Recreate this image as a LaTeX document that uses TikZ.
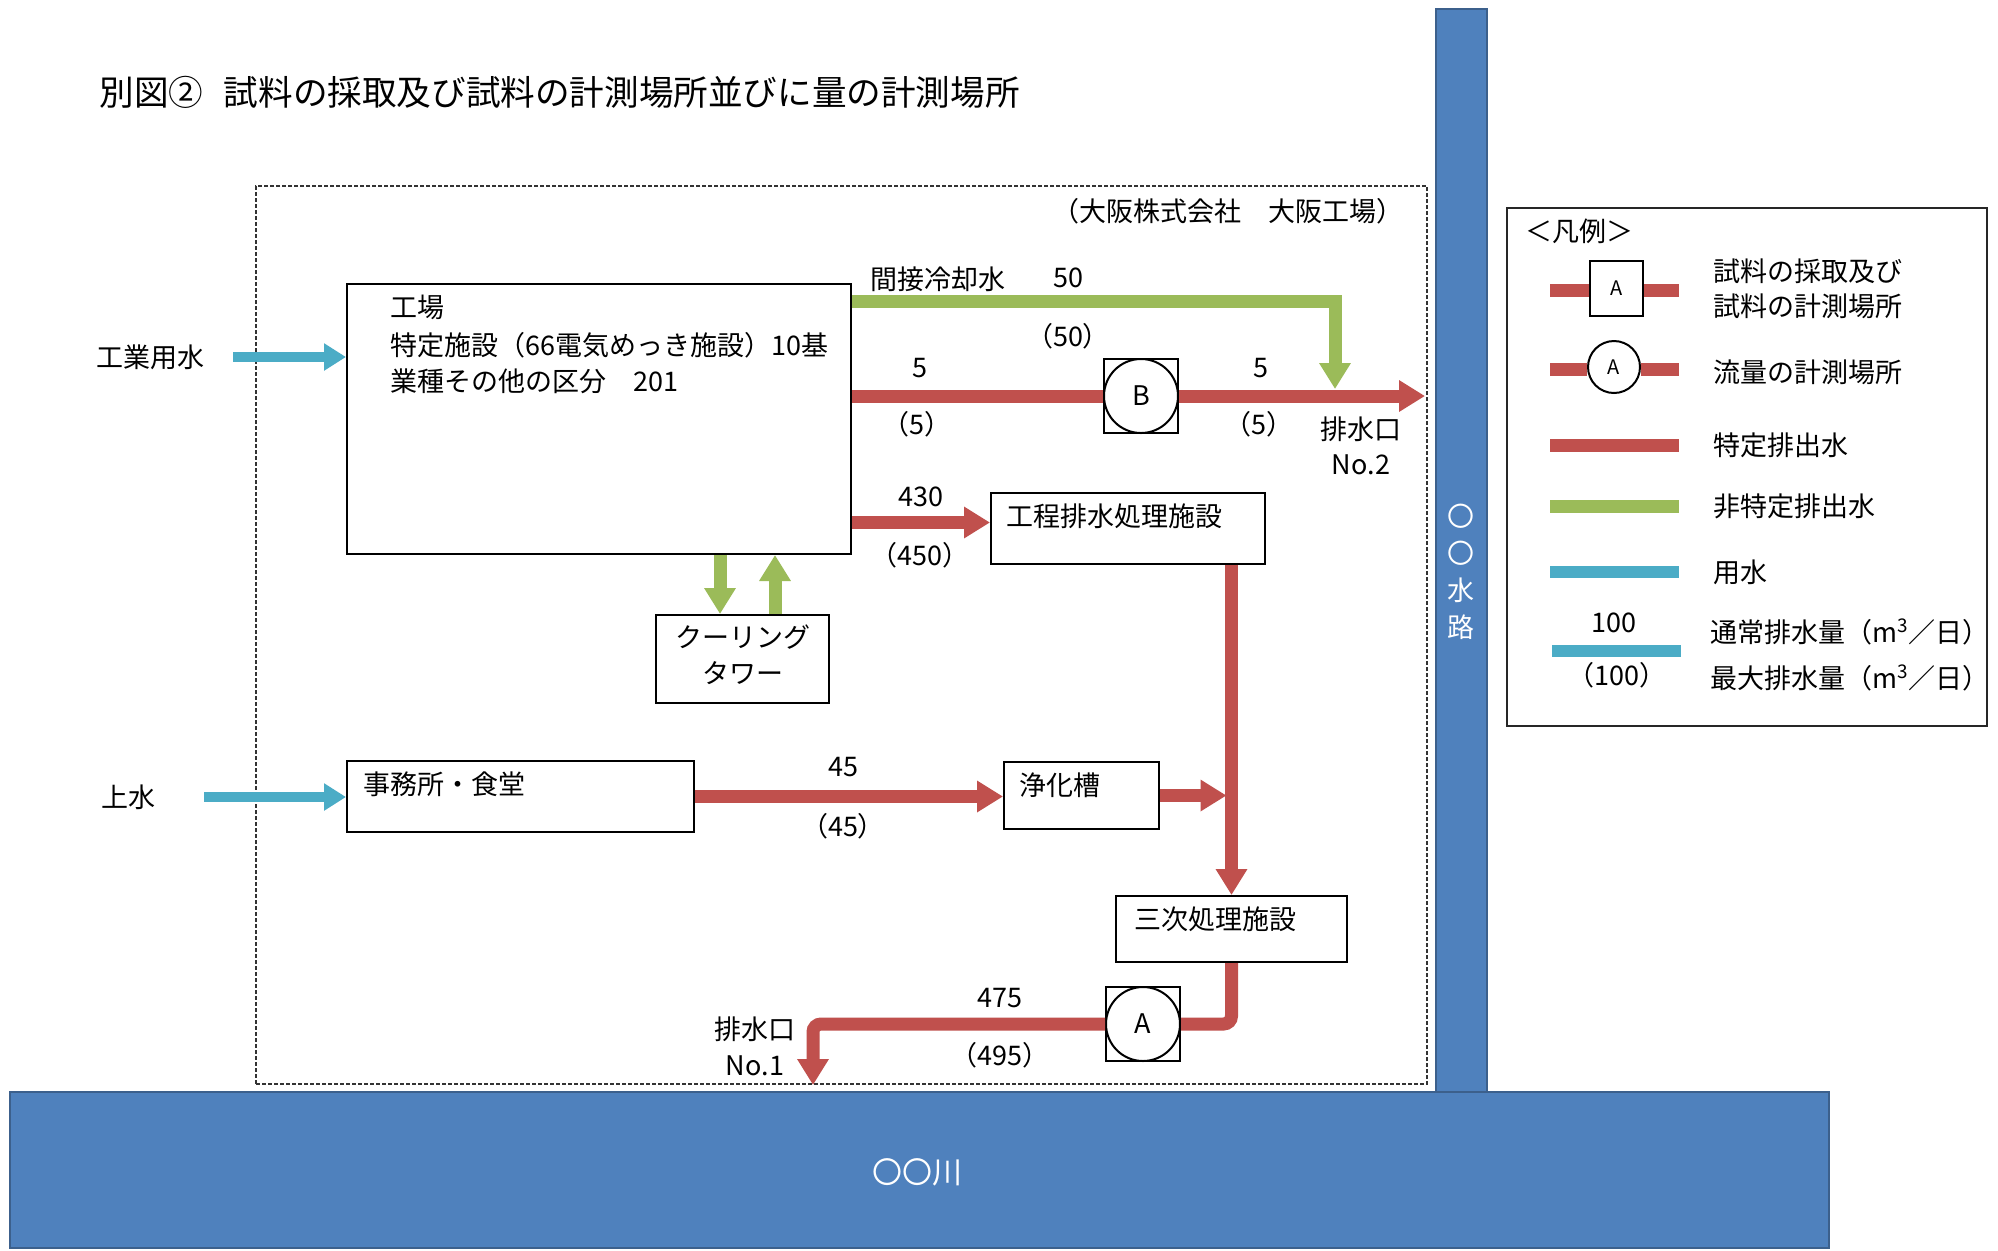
\documentclass[tikz,border=0pt]{standalone}
\usepackage{fontspec}
\setmainfont{Noto Sans CJK JP}
\usetikzlibrary{arrows.meta,calc}
\definecolor{fred}{RGB}{192,80,77}
\definecolor{fgreen}{RGB}{155,187,89}
\definecolor{fblue}{RGB}{75,172,198}
\definecolor{wblue}{RGB}{79,129,189}
\definecolor{wedge}{RGB}{60,96,140}
\begin{document}
\begin{tikzpicture}[x=0.5pt,y=-0.5pt,
  every node/.style={font=\fontsize{13.5}{16}\selectfont, inner sep=0pt},
  box/.style={draw=black, line width=1pt, fill=white, inner sep=0pt},
  redflow/.style={draw=fred, line width=6.5pt, line join=miter},
  redarrow/.style={redflow, -{Triangle[length=13pt,width=15pt]}},
  greenflow/.style={draw=fgreen, line width=6.5pt, line join=miter},
  greenarrow/.style={greenflow, -{Triangle[length=13pt,width=15pt]}},
  bluearrow/.style={draw=fblue, line width=5pt, -{Triangle[length=11pt,width=13pt]}},
  water/.style={fill=wblue, draw=wedge, line width=1pt},
  wtext/.style={text=white},
  small/.style={font=\fontsize{10}{12}\selectfont},
]
\useasboundingbox (0,0) rectangle (1998,1250);
\fill[white] (0,0) rectangle (1998,1250);

% title
\node[anchor=west, font=\fontsize{17.3}{20}\selectfont] (title) at (99,92)
  {別図②\hspace{0.6em}試料の採取及び試料の計測場所並びに量の計測場所};

% water bodies
\node[water, minimum width=25.5pt, minimum height=541.5pt] (canal) at (1461.5,550.5) {};
\node[water, minimum width=909.5pt, minimum height=78pt] (river) at (919.5,1170) {};
\node[wtext, align=center, font=\fontsize{13.5}{18.5}\selectfont] (canallbl) at (1461,572) {〇\\〇\\水\\路};
\node[wtext, font=\fontsize{15}{18}\selectfont] (riverlbl) at (917,1172) {〇〇川};

% site boundary
\node[draw=black!80, dash pattern=on 2pt off 1pt, line width=0.8pt,
      minimum width=585.5pt, minimum height=449pt] (site) at (841.5,635) {};
\node (company) at (1228,211) {（大阪株式会社　大阪工場）};

% boxes
\node[box, minimum width=252pt, minimum height=135pt] (factory) at (599,419) {};
\node[anchor=west] (f1) at (390,307) {工場};
\node[anchor=west] (f2) at (390,345) {特定施設（66電気めっき施設）10基};
\node[anchor=west] (f3) at (390,381) {業種その他の区分　201};

\node[box, minimum width=86.5pt, minimum height=44pt] (ctower) at (742.5,659) {};
\node (ct1) at (743,637) {クーリング};
\node (ct2) at (743,673) {タワー};

\node[box, minimum width=173.5pt, minimum height=35.5pt] (office) at (520.5,796.5) {};
\node[anchor=west] (officet) at (363,784) {事務所・食堂};

\node[box, minimum width=77.5pt, minimum height=33.5pt] (jokaso) at (1081.5,795.5) {};
\node[anchor=west] (jokasot) at (1019,785) {浄化槽};

\node[box, minimum width=137pt, minimum height=35.5pt] (kotei) at (1128,528.5) {};
\node[anchor=west] (koteit) at (1006,516) {工程排水処理施設};

\node[box, minimum width=115.5pt, minimum height=33pt] (sanji) at (1231.5,929) {};
\node[anchor=west] (sanjit) at (1134,919) {三次処理施設};

% measuring points
\node[box, minimum size=37pt] (Bsq) at (1141,396) {};
\node[draw=black, line width=1pt, circle, minimum size=37pt] (B) at (1141,396) {B};
\node[box, minimum size=37pt] (Asq) at (1143,1024) {};
\node[draw=black, line width=1pt, circle, minimum size=37pt] (A) at (1143,1024) {A};

% inputs
\node (kogyo) at (150,357) {工業用水};
\coordinate (kin) at (233,357);
\draw[bluearrow] (kin) -- (factory.west |- kin);
\node (josui) at (128,797) {上水};
\coordinate (jin) at (204,797);
\draw[bluearrow] (jin) -- (office.west |- jin);

% indirect cooling water
\coordinate (gstart) at ($(factory.north east)+(0,18)$);
\coordinate (gend) at (1335,389);
\draw[greenarrow] (gstart) -| (gend);
\node (g1) at (938,279) {間接冷却水};
\node (g2) at (1068,278) {50};
\node (g3) at (1068,336) {（50）};

% outlet No.2 line
\coordinate (out2) at (1425,396);
\draw[redflow] (factory.east |- Bsq) -- (Bsq.west);
\draw[redarrow] (Bsq.east) -- (out2);
\node (r1) at (920,368) {5};
\node (r2) at (917,424) {（5）};
\node (r3) at (1261,368) {5};
\node (r4) at (1259,424) {（5）};
\node (o2a) at (1361,429) {排水口};
\node (o2b) at (1361,465) {No.2};

% cooling tower
\coordinate (cdx) at (720,0);
\coordinate (cux) at (775,0);
\draw[greenarrow] (factory.south -| cdx) -- (ctower.north -| cdx);
\draw[greenarrow] (ctower.north -| cux) -- (factory.south -| cux);

% process waste water
\coordinate (k430) at ($(kotei.west)+(0,-6)$);
\draw[redarrow] (factory.east |- k430) -- (k430);
\node (p1) at (921,497) {430};
\node (p2) at (920,555) {（450）};

\draw[redarrow] (kotei.south -| sanji.north) -- (sanji.north);

% office
\draw[redarrow] (office.east) -- (jokaso.west |- office.east);
\node (s1) at (843,767) {45};
\node (s2) at (843,826) {（45）};
\coordinate (jin2) at ($(sanji.north |- jokaso.east)+(-5,0)$);
\draw[redarrow] (jokaso.east) -- (jin2);

% final outlet
\coordinate (out1) at (813,1085);
\draw[redflow, rounded corners=4] (sanji.south) |- (Asq.east);
\draw[redarrow, rounded corners=4] (Asq.west) -| (out1);
\node (t1) at (1000,998) {475};
\node (t2) at (1000,1055) {（495）};
\node (o1a) at (755,1029) {排水口};
\node (o1b) at (755,1066) {No.1};

% legend
\node[draw=black!85, line width=0.8pt, minimum width=240pt, minimum height=259pt] (legend) at (1747,467) {};
\node[anchor=west] (lgt) at (1525,231) {＜凡例＞};
\node[box, small, minimum width=26.5pt, minimum height=27.5pt] (l1box) at (1616.5,288) {A};
\coordinate (l1a) at (1550,290); \coordinate (l1b) at (1679,290);
\draw[redflow] (l1a) -- (l1box.west |- l1a);
\draw[redflow] (l1box.east |- l1b) -- (l1b);
\node[anchor=west] (l1t1) at (1713,271) {試料の採取及び};
\node[anchor=west] (l1t2) at (1713,306) {試料の計測場所};

\node[box, small, circle, minimum size=26pt] (l2c) at (1614,367) {A};
\coordinate (l2a) at (1550,369); \coordinate (l2b) at (1679,369);
\draw[redflow] (l2a) -- (l2c.west |- l2a);
\draw[redflow] (l2c.east |- l2b) -- (l2b);
\node[anchor=west] (l2t) at (1713,372) {流量の計測場所};

\coordinate (l3a) at (1550,445); \coordinate (l3b) at (1679,445);
\draw[redflow] (l3a) -- (l3b);
\node[anchor=west] (l3t) at (1713,445) {特定排出水};

\coordinate (l4a) at (1550,506); \coordinate (l4b) at (1679,506);
\draw[greenflow] (l4a) -- (l4b);
\node[anchor=west] (l4t) at (1713,506) {非特定排出水};

\coordinate (l5a) at (1550,572); \coordinate (l5b) at (1679,572);
\draw[draw=fblue, line width=6pt] (l5a) -- (l5b);
\node[anchor=west] (l5t) at (1713,572) {用水};

\coordinate (l6a) at (1552,651); \coordinate (l6b) at (1681,651);
\draw[draw=fblue, line width=6pt] (l6a) -- (l6b);
\node (l6n1) at (1614,623) {100};
\node (l6n2) at (1617,675) {（100）};
\node[anchor=west] (l6t1) at (1710,632) {通常排水量（m\textsuperscript{3}／日）};
\node[anchor=west] (l6t2) at (1710,678) {最大排水量（m\textsuperscript{3}／日）};
\end{tikzpicture}
\end{document}
